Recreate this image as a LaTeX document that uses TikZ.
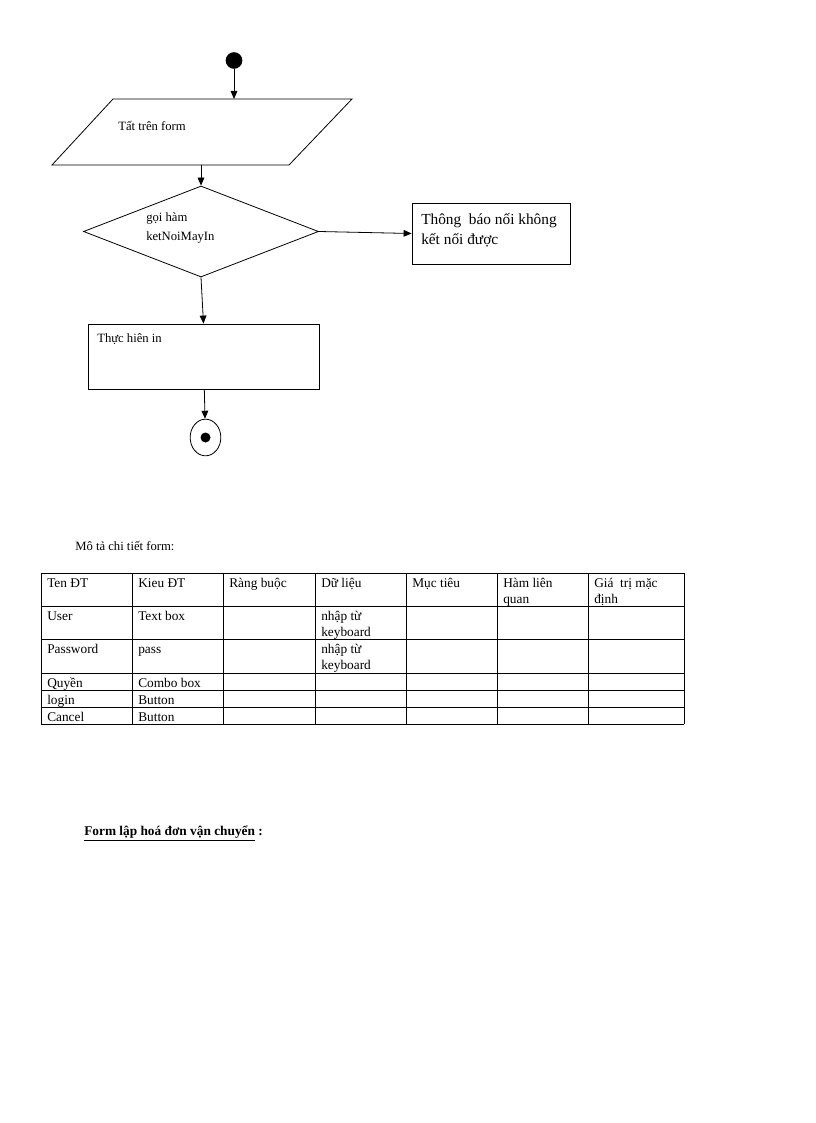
\documentclass[tikz,border=0pt]{standalone}
\usepackage{fontspec}
\setmainfont{Liberation Serif}
\usetikzlibrary{positioning,arrows.meta,shapes.geometric}
\newcommand{\ts}{\rule{0pt}{9pt}}

\begin{document}
\begin{tikzpicture}[
  x=0.75pt, y=-0.75pt,
  every node/.style={font=\fontsize{9.5}{12}\selectfont},
  line/.style={line width=0.6pt},
  arrow/.style={line, -{Triangle[length=6pt, width=5pt]}},
  box/.style={draw, line, rectangle, inner sep=0pt},
  txt/.style={inner sep=0pt, align=left, anchor=north west},
  cell/.style={txt, font=\fontsize{10}{12}\selectfont}
]
\useasboundingbox (0,0) rectangle (816,1123);

% flow chart
\node[circle, fill, minimum size=12.5pt, inner sep=0pt] (start) at (234,60.5) {};
\draw[line] (113,99) -- (352,99) -- (289,165) -- (52,165) -- cycle;
\coordinate (inputTop) at (234,99);
\coordinate (inputBot) at (201,165);
\node[txt] (inputTxt) at (118,118) {\ts Tất trên form};

\node[diamond, draw, line, minimum width=176.25pt, minimum height=68.25pt, inner sep=0pt] (connect) at (201,231.5) {};
\node[txt, font=\fontsize{9.5}{14.25}\selectfont] (connectTxt) at (146,209) {\ts gọi hàm\\ketNoiMayIn};

\node[box, minimum width=118.5pt, minimum height=45.75pt] (fail) at (491,233.5) {};
\node[txt, font=\fontsize{11.5}{15}\selectfont] (failTxt) at (421,212) {\ts Thông~ báo nối không\\kết nối được};

\node[box, minimum width=173.25pt, minimum height=48.75pt] (doPrint) at (203.5,356.5) {};
\node[txt] (doPrintTxt) at (97,330) {\ts Thực hiên in};

\node[ellipse, draw, line, minimum width=23pt, minimum height=27.5pt, inner sep=0pt] (stop) at (205.5,437.5) {};
\node[circle, fill, minimum size=7.5pt, inner sep=0pt] (stopDot) at (stop.center) {};

\draw[arrow] (start) -- (inputTop);
\draw[arrow] (inputBot) -- (connect.north);
\draw[arrow] (connect.east) -- (fail.west);
\draw[arrow] (connect.south) -- (doPrint.north);
\draw[arrow] (doPrint) -- (stop);

% form description
\node[txt] (descTitle) at (75,538) {\ts Mô tả chi tiết form:};

\foreach \x in {41,132,223,315,406,497,588,684}
  \draw[line] (\x,573) -- (\x,724);
\foreach \y in {573,606,639,673,690,707,724}
  \draw[line] (41,\y) -- (684,\y);

\node[cell] (h1) at (47,575) {\ts Ten ĐT};
\node[cell] (h2) at (138,575) {\ts Kieu ĐT};
\node[cell] (h3) at (229,575) {\ts Ràng buộc};
\node[cell] (h4) at (321,575) {\ts Dữ liệu};
\node[cell] (h5) at (412,575) {\ts Mục tiêu};
\node[cell] (h6) at (503,575) {\ts Hàm liên\\quan};
\node[cell] (h7) at (594,575) {\ts Giá~ trị mặc\\định};

\node[cell] (r1a) at (47,608) {\ts User};
\node[cell] (r1b) at (138,608) {\ts Text~box};
\node[cell] (r1d) at (321,608) {\ts nhập từ\\keyboard};
\node[cell] (r2a) at (47,641) {\ts Password};
\node[cell] (r2b) at (138,641) {\ts pass};
\node[cell] (r2d) at (321,641) {\ts nhập từ\\keyboard};
\node[cell] (r3a) at (47,675) {\ts Quyền};
\node[cell] (r3b) at (138,675) {\ts Combo~box};
\node[cell] (r4a) at (47,692) {\ts login};
\node[cell] (r4b) at (138,692) {\ts Button};
\node[cell] (r5a) at (47,709) {\ts Cancel};
\node[cell] (r5b) at (138,709) {\ts Button};

% next form
\node[txt, font=\bfseries\fontsize{10}{12}\selectfont] (nextTitle) at (84,823) {\ts\underline{Form lập hoá đơn vận chuyển} :};
\end{tikzpicture}
\end{document}
